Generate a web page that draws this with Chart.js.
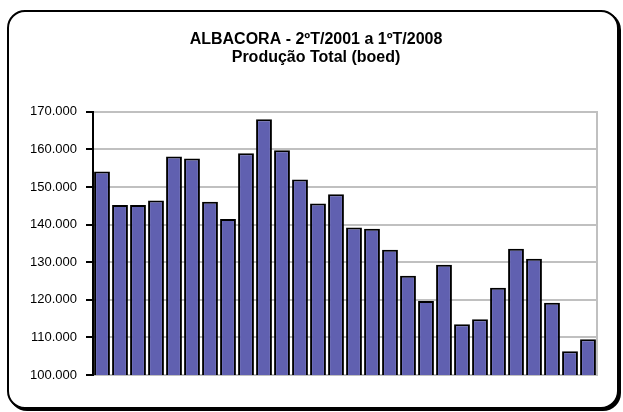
<!DOCTYPE html>
<html>
<head>
<meta charset="utf-8">
<script src="https://cdn.jsdelivr.net/npm/chart.js@4/dist/chart.umd.min.js"></script>
<style>
  html, body { margin: 0; padding: 0; background: #fff; }
  body { width: 623px; height: 412px; position: relative; overflow: hidden; }
  #moldura {
    position: absolute; left: 7px; top: 10px;
    width: 608px; height: 395px;
    border: 2px solid #000; border-radius: 18px;
    box-shadow: 2px 2px 0 #000;
    background: #fff;
  }
  #wrap { position: absolute; left: 0; top: 0; width: 608px; height: 395px; }
</style>
</head>
<body>
<div id="moldura"><div id="wrap"><canvas id="grafico"></canvas></div></div>
<script>
// Trimestres 2ºT/2001 .. 1ºT/2008
const trimestres = [
  '2T01','3T01','4T01',
  '1T02','2T02','3T02','4T02',
  '1T03','2T03','3T03','4T03',
  '1T04','2T04','3T04','4T04',
  '1T05','2T05','3T05','4T05',
  '1T06','2T06','3T06','4T06',
  '1T07','2T07','3T07','4T07',
  '1T08'
];
const producao = [
  154100, 145200, 145200,
  146400, 158100, 157600, 146100,
  141500, 159000, 168000, 159800,
  152000, 145600, 148100, 139200,
  138900, 133300, 126400, 119700,
  129300, 113500, 114800, 123200,
  133600, 130900, 119200, 106300,
  109500
];
const ticksY = [100000, 110000, 120000, 130000, 140000, 150000, 160000, 170000];
const titulo = ['ALBACORA - 2ºT/2001 a 1ºT/2008', 'Produção Total (boed)'];

// 170000 -> "170.000"
function formatarMilhar(v) {
  return String(v).replace(/\B(?=(\d{3})+(?!\d))/g, '.');
}

const ctx = document.getElementById('grafico');
new Chart(ctx, {
  type: 'bar',
  data: {
    labels: trimestres,
    datasets: [{
      data: producao,
      backgroundColor: '#6060b0',
      borderColor: '#000',
      borderWidth: 2,
      borderSkipped: false,
      barPercentage: 0.88,
      categoryPercentage: 1.0
    }]
  },
  options: {
    responsive: true,
    maintainAspectRatio: false,
    animation: false,
    layout: { padding: { left: 6, right: 0, top: 0, bottom: 24 } },
    plugins: {
      legend: { display: false },
      tooltip: { enabled: false },
      title: {
        display: true,
        text: titulo,
        color: '#000',
        font: { family: '"Liberation Sans", Arial, sans-serif', size: 16, weight: 'bold', lineHeight: 1.15 },
        padding: { top: 18, bottom: 45 }
      }
    },
    scales: {
      x: {
        grid: { display: false },
        border: { display: false },
        ticks: { display: false }
      },
      y: {
        min: 100000,
        max: 170000,
        afterBuildTicks: (s) => { s.ticks = ticksY.map(v => ({ value: v })); },
        afterFit: (s) => { s.width = 78; },
        grid: { color: '#c0c0c0', lineWidth: 2, tickColor: '#000', tickLength: 7 },
        border: { color: '#000', width: 2 },
        ticks: {
          color: '#000',
          padding: 9,
          font: { family: '"Liberation Sans", Arial, sans-serif', size: 13 },
          callback: (v) => formatarMilhar(v)
        }
      },
      yDir: {
        position: 'right',
        min: 100000,
        max: 170000,
        afterFit: (s) => { s.width = 20; },
        grid: { display: false },
        border: { color: '#c0c0c0', width: 2 },
        ticks: { display: false }
      }
    }
  }
});
</script>
</body>
</html>
